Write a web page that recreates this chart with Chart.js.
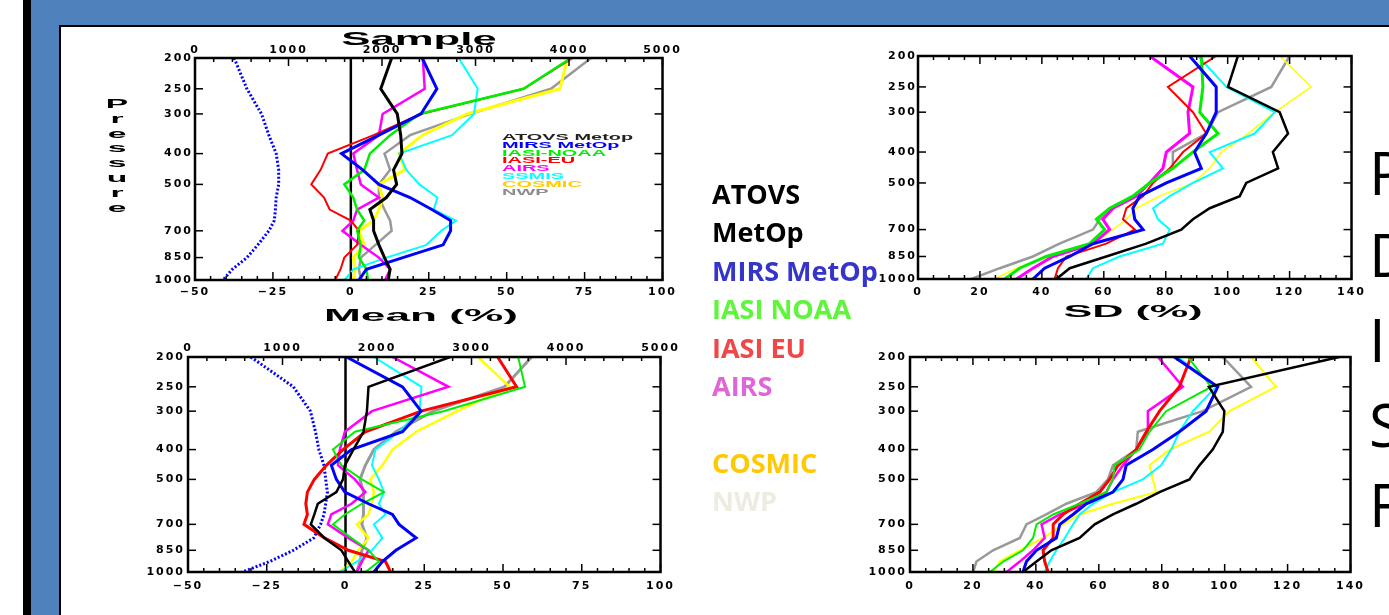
<!DOCTYPE html>
<html>
<head>
<meta charset="utf-8">
<title>Humidity profiles</title>
<script src="https://cdn.jsdelivr.net/npm/chart.js@4.4.1/dist/chart.umd.min.js"></script>
<style>
body { margin: 0; width: 1389px; height: 615px; overflow: hidden; background: #fff; position: relative; }
.box { position: absolute; }
#stripe { left: 23px; top: 0; width: 8px; height: 615px; background: #000; }
#frame { left: 31px; top: 0; width: 1358px; height: 615px; background: #4f81bd; }
#sheet { left: 59px; top: 25px; width: 1330px; height: 590px; background: #fff; border-left: 2px solid #000; border-top: 2px solid #000; box-sizing: border-box; }
canvas { position: absolute; }
.ttl { position: absolute; font-family: "Liberation Sans", Arial, sans-serif; font-weight: bold; color: #000; white-space: nowrap; transform-origin: 50% 50%; }
#pressure { position: absolute; left: 107px; top: 97px; width: 20px; text-align: center; font: bold 12px/14.8px "Liberation Sans", Arial, sans-serif; transform: scaleX(2.8); }
#mini { position: absolute; left: 502px; top: 133px; font: bold 9.5px/7.8px "Liberation Sans", Arial, sans-serif; transform: scaleX(2.1); transform-origin: 0 0; white-space: nowrap; }
#keys { position: absolute; left: 712px; top: 175px; font: bold 27px/38.4px "Open Sans", sans-serif; white-space: nowrap; z-index: 5; }
.side { position: absolute; left: 1369px; font: 60px/60px "Open Sans", sans-serif; color: #000; }
</style>
</head>
<body>
<div class="box" id="stripe"></div>
<div class="box" id="frame"></div>
<div class="box" id="sheet"></div>

<canvas id="meanTop" width="545" height="300" style="left:135px; top:18px"></canvas>
<canvas id="sdTop" width="510" height="300" style="left:860px; top:18px"></canvas>
<canvas id="meanBot" width="545" height="297" style="left:135px; top:318px"></canvas>
<canvas id="sdBot" width="510" height="297" style="left:860px; top:318px"></canvas>

<div class="ttl" style="left:419px; top:29px; font-size:19px; line-height:19px; transform:translateX(-50%) scaleX(2.3)">Sample</div>
<div class="ttl" style="left:421px; top:307px; font-size:17px; line-height:17px; transform:translateX(-50%) scaleX(2.6)">Mean (%)</div>
<div class="ttl" style="left:1133px; top:304px; font-size:16px; line-height:16px; transform:translateX(-50%) scaleX(2.7)">SD (%)</div>
<div id="pressure">P<br>r<br>e<br>s<br>s<br>u<br>r<br>e</div>
<div id="mini"></div>
<div id="keys"></div>

<div class="side" style="top:142px">P</div>
<div class="side" style="top:224px">D</div>
<div class="side" style="top:309px">I</div>
<div class="side" style="top:394px">S</div>
<div class="side" style="top:474px">F</div>

<script>
// pressure levels (hPa) shared by every profile
var pres = [200, 250, 300, 350, 400, 450, 500, 550, 600, 650, 700, 775, 850, 925, 1000];
var presTicks = [200, 250, 300, 400, 500, 700, 850, 1000];
var zeroLine = [0, 0];
var zeroPres = [200, 1000];

var seriesNames = ['ATOVS Metop', 'MIRS MetOp', 'IASI-NOAA', 'IASI-EU', 'AIRS', 'SSMIS', 'COSMIC', 'NWP'];
var keyNames = ['ATOVS', 'MetOp', 'MIRS MetOp', 'IASI NOAA', 'IASI EU', 'AIRS', '', 'COSMIC', 'NWP'];

// mean (%) - first set
var atovsA = [13.1, 9.6, 14.9, 16, 16.4, 13.7, 14.7, 11.4, 6.1, 7.3, 7.3, 9, 10.8, 12.6, 12];
var mirsA = [22.9, 27.6, 22.5, 9, -3, 3.8, 9, 19, 26, 32, 32, 29.6, 16.7, 5, 2.6];
var iasiNoaaA = [70.7, 55.4, 22, 12.6, 6.1, 4.3, -2.1, 0.8, 2, 4.3, 2, 3.2, 2.6, 5, 5.5];
var iasiEuA = [71.2, 55.4, 22.5, 7.3, -7.4, -9.7, -12.7, -8.6, -6.8, 0, 2.6, 2, -2.1, -3.3, -5];
var airsA = [23.1, 23.7, 10.2, 9, 0.8, 2, 3.2, 9, 2, 0.8, -2.7, 3.2, 9, 12.6, 11];
var ssmisA = [34.6, 40.7, 39.5, 32.5, 15.5, 17.8, 22, 27.8, 26.6, 33.7, 29, 24.3, 11.4, 0.8, -2];
var cosmicA = [69.5, 67.1, 37.2, 23, 15.5, 17.3, 9, 10.2, 9, 7.3, 2.6, 4.3, 0.8, 1.4, 0.8];
var nwpA = [77.1, 64.2, 38.4, 19, 10.8, 12.6, 9, 9, 10.8, 12.6, 13.1, 7.9, 3.2, 2.6, 3.2];
var sampleA = [418, 555, 711, 790, 868, 895, 895, 868, 860, 848, 790, 672, 555, 399, 301];

// SD (%) - first set
var atovsB = [103.3, 100.1, 116.8, 119.5, 114.6, 116.3, 106, 103.9, 94.2, 88.8, 85, 73.7, 60.8, 49, 44.7];
var mirsB = [87.7, 96.3, 96.3, 93.1, 89.3, 91.5, 80.2, 71.6, 69.4, 70, 72.7, 56.5, 49, 40.9, 37.1];
var iasiNoaaB = [91.5, 92, 91, 96.9, 88.8, 82.3, 74.8, 69.4, 61.9, 57.6, 60.3, 55.4, 41.4, 32.8, 28];
var iasiEuB = [96.3, 80.7, 88.8, 93.1, 85.6, 81.3, 75.9, 72.7, 67.3, 66.2, 70, 60.8, 47.9, 45.2, 44.1];
var airsB = [74.8, 88.8, 87.2, 87.7, 80.2, 79.1, 74.8, 70.5, 63, 59.7, 61.9, 56.5, 43.6, 37.1, 31.8];
var ssmisB = [90.4, 99.6, 115.2, 108.7, 94.2, 98.5, 88.8, 81.3, 75.9, 77.5, 81.3, 79.1, 65.1, 56.5, 54.4];
var cosmicB = [116.8, 127, 115.2, 106.6, 98, 94.2, 88.8, 78, 70.5, 67.3, 63, 56.5, 42.5, 31.8, 24.8];
var nwpB = [120, 114.1, 96.9, 93.1, 82.3, 82.3, 74.8, 69.4, 63, 58.7, 56.5, 45.7, 37.1, 26.4, 17.2];

// mean (%) - second set
var atovsC = [33.2, 7.3, 6.8, 5.7, 2.5, -0.2, -0.8, -2.9, -8.8, -9.9, -11, -6.7, -1.3, 0.9, 3];
var mirsC = [0.3, 18.1, 24, 18.1, 1.9, -4.5, -2.9, -0.2, 7.3, 14.9, 17, 22.4, 16, 11.7, 9];
var iasiNoaaC = [54.8, 57, 31.1, 3, -4, -1.3, 5.2, 12.2, 5.2, -0.2, -4, 1.9, 7.3, 10.6, 6.3];
var iasiEuC = [48.3, 54.3, 24, 6.3, -0.8, -6.1, -9.9, -12.1, -12.6, -12.1, -13.2, -6.7, 0.9, 12.7, 14.3];
var airsC = [14.9, 32.7, 8.4, -0.2, -1.8, -2.4, 3, 6.3, 1.9, -4.5, -5.6, 0.9, 7.3, 5.2, 3.6];
var ssmisC = [9, 24.1, 23.5, 17, 9.5, 8.4, 10.6, 12.2, 10.6, 12.7, 9, 11.7, 8.4, 3.6, -1.8];
var cosmicC = [42.1, 52.1, 35.4, 22.4, 14.9, 11.7, 7.9, 9, 8.4, 7.3, 3.6, 7.3, 4.1, 1.9, -1.8];
var nwpC = [59.1, 50.5, 27.8, 16, 9, 6.3, 4.6, 5.7, 5.7, 5.7, 5.2, 6.8, 5.2, 4.6, 3.6];
var sampleC = [665, 1115, 1295, 1349, 1385, 1439, 1457, 1475, 1457, 1439, 1403, 1331, 1115, 863, 576];

// SD (%) - second set
var atovsD = [136.4, 95, 99.9, 99.4, 96.2, 92, 88.8, 79.3, 71.9, 64.5, 58.7, 53.9, 44.9, 40.2, 35.9];
var mirsD = [84, 97.8, 94.1, 85.6, 77.2, 68.7, 67.7, 64.5, 56, 51.8, 47.6, 46.5, 40.2, 37, 35.9];
var iasiNoaaD = [88.3, 95.7, 81.4, 76.1, 72.9, 65, 64.5, 62.4, 53.9, 45.5, 40.2, 39.1, 35.9, 29.6, 25.4];
var iasiEuD = [89.3, 85.6, 79.3, 75.1, 71.9, 66.1, 63.4, 60.3, 53.9, 48.6, 45.5, 45.5, 42.3, 42.8, 43.9];
var airsD = [78.8, 86.7, 75.6, 75.6, 71.9, 67.7, 64.5, 62.4, 56, 47.6, 41.8, 42.8, 39.1, 34.9, 30.7];
var ssmisD = [85.1, 97.3, 89.9, 85.6, 83, 79.8, 74, 64.5, 58.1, 53.9, 51.8, 49.2, 46.5, 44.4, 42.8];
var cosmicD = [108.4, 116.3, 101.5, 95.1, 82.5, 76.1, 77.2, 78.2, 64.5, 53.9, 48.6, 42.3, 34.9, 28.5, 26.4];
var nwpD = [99.4, 108.4, 93, 72.4, 71.9, 64.5, 62.9, 59.2, 49.7, 43.3, 37, 34.9, 26.4, 21.1, 20.1];

var lineColors = ['#000000', '#0000ff', '#00ee00', '#ff0000', '#ff00ff', '#00ffff', '#ffff00', '#999999'];
var miniColors = ['#222222', '#0000ff', '#00ee00', '#ff0000', '#ff00ff', '#00ffff', '#ffcc00', '#8c8c8c'];
var keyColors = ['#000000', '#000000', '#3535c8', '#5ef53a', '#f04848', '#e066d8', '#fff', '#ffc800', '#eeece1'];

// legends
var mini = document.getElementById('mini');
seriesNames.forEach(function (n, i) {
  mini.innerHTML += '<div style="color:' + miniColors[i] + '">' + n + '</div>';
});
var keys = document.getElementById('keys');
keyNames.forEach(function (n, i) {
  keys.innerHTML += '<div style="color:' + keyColors[i] + '">' + (n || '&nbsp;') + '</div>';
});

function profile(vals, levels, color, width, axis, dash) {
  return {
    data: vals.map(function (v, i) { return { x: v, y: levels[i] }; }),
    borderColor: color,
    borderWidth: width,
    borderDash: dash || [],
    showLine: true,
    pointRadius: 0,
    fill: false,
    xAxisID: axis || 'x'
  };
}

function minusFmt(v) {
  return v < 0 ? '\u2212' + Math.abs(v) : String(v);
}

var tickFont = { family: 'DejaVu Sans', size: 11, weight: 'bold' };

// IDL style box: thick border, inward major/minor ticks
var frameTicks = {
  id: 'frameTicks',
  beforeDraw: function (chart) {
    chart.ctx.letterSpacing = '2px';
  },
  afterDatasetsDraw: function (chart, args, opts) {
    var ctx = chart.ctx, a = chart.chartArea;
    var sx = chart.scales.x, sy = chart.scales.y, st = chart.scales.x2;
    ctx.save();
    ctx.strokeStyle = '#000';
    ctx.lineWidth = 1.5;
    function tick(x1, y1, x2, y2) {
      ctx.beginPath(); ctx.moveTo(x1, y1); ctx.lineTo(x2, y2); ctx.stroke();
    }
    presTicks.forEach(function (p) {
      var py = sy.getPixelForValue(p);
      tick(a.left, py, a.left + 8, py);
      tick(a.right, py, a.right - 8, py);
    });
    for (var v = sx.min; v <= sx.max + 1e-6; v += opts.minor) {
      var px = sx.getPixelForValue(v);
      var len = Math.abs((v - sx.min) % opts.major) < 1e-6 ? 8 : 4;
      tick(px, a.bottom, px, a.bottom - len);
      if (!st) tick(px, a.top, px, a.top + len);
    }
    if (st) {
      for (var s = 0; s <= 5000; s += 200) {
        var qx = st.getPixelForValue(s);
        tick(qx, a.top, qx, a.top + (s % 1000 === 0 ? 8 : 4));
      }
    }
    ctx.lineWidth = 2.5;
    ctx.strokeRect(a.left, a.top, a.right - a.left, a.bottom - a.top);
    ctx.restore();
  }
};

function makeChart(id, datasets, kind, box) {
  var scales = {
    x: {
      type: 'linear',
      min: kind === 'mean' ? -50 : 0,
      max: kind === 'mean' ? 100 : 140,
      grid: { display: false, drawTicks: false },
      border: { display: false },
      ticks: {
        stepSize: kind === 'mean' ? 25 : 20,
        autoSkip: false, maxRotation: 0,
        padding: box.xPad, color: '#000', font: tickFont,
        callback: minusFmt
      },
      afterFit: function (s) { s.height = box.bottom; }
    },
    y: {
      type: 'logarithmic',
      reverse: true,
      min: 200, max: 1000,
      grid: { display: false, drawTicks: false },
      border: { display: false },
      afterBuildTicks: function (s) {
        s.ticks = presTicks.map(function (p) { return { value: p }; });
      },
      ticks: {
        autoSkip: false, padding: box.yPad, color: '#000', font: tickFont,
        callback: function (v) { return String(v); }
      },
      afterFit: function (s) { s.width = box.left; }
    }
  };
  if (kind === 'mean') {
    scales.x2 = {
      type: 'linear',
      position: 'top',
      min: 0, max: 5000,
      grid: { display: false, drawTicks: false },
      border: { display: false },
      ticks: {
        stepSize: 1000, autoSkip: false, maxRotation: 0, padding: box.topPad, color: '#000', font: tickFont,
        callback: function (v) { return String(v); }
      },
      afterFit: function (s) { s.height = box.top; }
    };
  }
  return new Chart(document.getElementById(id), {
    type: 'scatter',
    data: { datasets: datasets },
    options: {
      responsive: false,
      animation: false,
      layout: { padding: { left: 0, right: box.right, top: kind === 'mean' ? 0 : box.top, bottom: 0 } },
      plugins: {
        legend: { display: false },
        tooltip: { enabled: false },
        frameTicks: { major: kind === 'mean' ? 25 : 20, minor: 5 }
      },
      scales: scales
    },
    plugins: [frameTicks]
  });
}

function set(vals, widths) {
  return vals.map(function (v, i) { return profile(v, pres, lineColors[i], widths[i]); });
}

var dsA = set([atovsA, mirsA, iasiNoaaA, iasiEuA, airsA, ssmisA, cosmicA, nwpA], [3, 3, 2.5, 2, 2.5, 2, 3, 2.5]);
dsA.push(profile(zeroLine, zeroPres, '#000', 2.5));
dsA.push(profile(sampleA, pres, '#0000ff', 3, 'x2', [2, 2]));

var dsB = set([atovsB, mirsB, iasiNoaaB, iasiEuB, airsB, ssmisB, cosmicB, nwpB], [2.5, 3, 3, 2, 3, 2, 1.5, 2.5]);

var dsC = set([atovsC, mirsC, iasiNoaaC, iasiEuC, airsC, ssmisC, cosmicC, nwpC], [2.5, 3, 2, 3, 2.5, 2, 2.5, 3]);
dsC.push(profile(zeroLine, zeroPres, '#000', 2.5));
dsC.push(profile(sampleC, pres, '#0000ff', 3, 'x2', [2, 2]));

var dsD = set([atovsD, mirsD, iasiNoaaD, iasiEuD, airsD, ssmisD, cosmicD, nwpD], [2.5, 3, 2, 3, 2.5, 2, 2, 2.5]);

makeChart('meanTop', dsA, 'mean', { left: 60, right: 11, top: 40, bottom: 38, xPad: 6, yPad: 2, topPad: 1 });
makeChart('sdTop', dsB, 'sd', { left: 58, right: 18, top: 38, bottom: 39, xPad: 7, yPad: 1 });
makeChart('meanBot', dsC, 'mean', { left: 53, right: 13, top: 39, bottom: 43, xPad: 8, yPad: 3, topPad: 2 });
makeChart('sdBot', dsD, 'sd', { left: 50, right: 18, top: 39, bottom: 43, xPad: 8, yPad: 3 });
</script>
</body>
</html>
